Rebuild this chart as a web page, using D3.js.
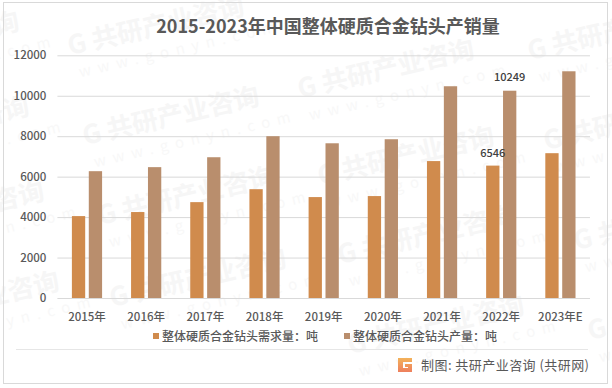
<!DOCTYPE html>
<html>
<head>
<meta charset="utf-8">
<script src="https://cdnjs.cloudflare.com/ajax/libs/d3/7.8.5/d3.min.js"></script>
<style>
  html, body { margin: 0; padding: 0; background: #fff; }
  svg { display: block; }
  text { font-family: "Noto Sans CJK SC", "Noto Sans", sans-serif; }
</style>
</head>
<body>
<div id="chart"></div>
<script>
const years = ['2015年', '2016年', '2017年', '2018年', '2019年', '2020年', '2021年', '2022年', '2023年E']
const demand = [4050, 4250, 4740, 5380, 4990, 5040, 6770, 6546, 7160]
const output = [6270, 6470, 6960, 8000, 7650, 7850, 10470, 10249, 11210]
const yTicks = [0, 2000, 4000, 6000, 8000, 10000, 12000]
const labelled = ['2022年']
const seriesNames = ['整体硬质合金钻头需求量：吨', '整体硬质合金钻头产量：吨']
const seriesColors = ['#d08b4d', '#b98e6d']

const width = 612
const height = 388

const svg = d3.select('#chart')
    .append('svg')
    .attr('width', width)
    .attr('height', height)

// watermark sits behind everything
const marks = [[70, 55], [85, 145], [100, 225], [112, 307], [-155, 70], [-145, 155], [-130, 240], [-115, 330],
    [300, 98], [320, 185], [340, 264], [350, 354], [530, 60], [546, 150], [576, 250], [590, 340]]

const wm = svg.selectAll('.wm')
    .data(marks)
    .enter()
    .append('g')
    .attr('class', 'wm')
    .attr('transform', d => `translate(${d[0]},${d[1]}) rotate(-13)`)

wm.append('text')
    .attr('font-size', 26)
    .attr('font-weight', 'bold')
    .attr('fill', '#f6f6f6')
    .text('G 共研产业咨询')

wm.append('text')
    .attr('x', 5)
    .attr('y', 24)
    .attr('font-size', 15)
    .attr('letter-spacing', '7px')
    .attr('fill', '#f8f8f8')
    .text('www.gonyn.com')

// outer frame
svg.append('rect')
    .attr('x', 3.5)
    .attr('y', 2.5)
    .attr('width', 604)
    .attr('height', 381)
    .attr('fill', 'none')
    .attr('stroke', '#d9d9d9')

svg.append('text')
    .attr('x', 328)
    .attr('y', 33)
    .attr('text-anchor', 'middle')
    .attr('font-size', 18)
    .attr('font-weight', 'bold')
    .attr('fill', '#595959')
    .text('2015-2023年中国整体硬质合金钻头产销量')

// scales
const x = d3.scaleBand()
    .domain(years)
    .range([57.4, 590])

const y = d3.scaleLinear()
    .domain([0, 12000])
    .range([298, 55.3])

const barWidth = 13.3
const barGap = 3.6

// gridlines
svg.append('g')
    .call(d3.axisLeft(y).tickValues(yTicks).tickSize(-(590 - 57.4)).tickFormat(d => d))
    .attr('transform', 'translate(57.4,0)')
    .call(g => g.select('.domain').remove())
    .call(g => g.selectAll('line').attr('stroke', '#d9d9d9').attr('stroke-width', 1))
    .call(g => g.selectAll('text')
        .attr('x', -11)
        .attr('font-size', 11.5)
        .attr('font-weight', 500)
        .attr('fill', '#595959'))

// x axis
svg.append('g')
    .attr('transform', 'translate(0,298)')
    .call(d3.axisBottom(x).tickSize(0).tickPadding(15))
    .call(g => g.select('.domain').remove())
    .call(g => g.selectAll('text')
        .attr('font-size', 11.5)
        .attr('font-weight', 500)
        .attr('fill', '#595959'))

// bars
svg.selectAll('.demand')
    .data(years)
    .enter()
    .append('rect')
    .attr('class', 'demand')
    .attr('x', d => x(d) + x.bandwidth() / 2 - barGap / 2 - barWidth)
    .attr('y', (d, i) => y(demand[i]))
    .attr('width', barWidth)
    .attr('height', (d, i) => y(0) - y(demand[i]))
    .attr('fill', seriesColors[0])

svg.selectAll('.output')
    .data(years)
    .enter()
    .append('rect')
    .attr('class', 'output')
    .attr('x', d => x(d) + x.bandwidth() / 2 + barGap / 2)
    .attr('y', (d, i) => y(output[i]))
    .attr('width', barWidth)
    .attr('height', (d, i) => y(0) - y(output[i]))
    .attr('fill', seriesColors[1])

// value labels only on 2022
labelled.forEach(year => {
    const i = years.indexOf(year)
    svg.append('text')
        .attr('x', x(year) + x.bandwidth() / 2 - barGap / 2 - barWidth / 2)
        .attr('y', y(demand[i]) - 9)
        .attr('text-anchor', 'middle')
        .attr('font-size', 11)
        .attr('font-weight', 500)
        .attr('fill', '#404040')
        .text(demand[i])
    svg.append('text')
        .attr('x', x(year) + x.bandwidth() / 2 + barGap / 2 + barWidth / 2)
        .attr('y', y(output[i]) - 10)
        .attr('text-anchor', 'middle')
        .attr('font-size', 11)
        .attr('font-weight', 500)
        .attr('fill', '#404040')
        .text(output[i])
})

// legend
const legendX = [153, 344]
seriesNames.forEach((name, i) => {
    svg.append('rect')
        .attr('x', legendX[i])
        .attr('y', 333)
        .attr('width', 6)
        .attr('height', 6)
        .attr('fill', seriesColors[i])
    svg.append('text')
        .attr('x', legendX[i] + 9)
        .attr('y', 340.5)
        .attr('font-size', 12)
        .attr('font-weight', 500)
        .attr('fill', '#595959')
        .text(name)
})

// footer
svg.append('line')
    .attr('x1', 16)
    .attr('x2', 588)
    .attr('y1', 349.5)
    .attr('y2', 349.5)
    .attr('stroke', '#e6e6e6')

const defs = svg.append('defs')
const grad = defs.append('linearGradient')
    .attr('id', 'logoGrad')
    .attr('x1', 0).attr('y1', 0).attr('x2', 0).attr('y2', 1)
grad.append('stop').attr('offset', 0).attr('stop-color', '#f3b25a')
grad.append('stop').attr('offset', 1).attr('stop-color', '#ee7f5d')

svg.append('path')
    .attr('d', 'M398 358h14v4h-9v6h5v-1h-3v-3h7v8h-14z')
    .attr('fill', 'url(#logoGrad)')

svg.append('text')
    .attr('x', 421)
    .attr('y', 369.5)
    .attr('font-size', 13)
    .attr('letter-spacing', '0.45px')
    .attr('fill', '#595959')
    .text('制图: 共研产业咨询 (共研网)')
</script>
</body>
</html>
